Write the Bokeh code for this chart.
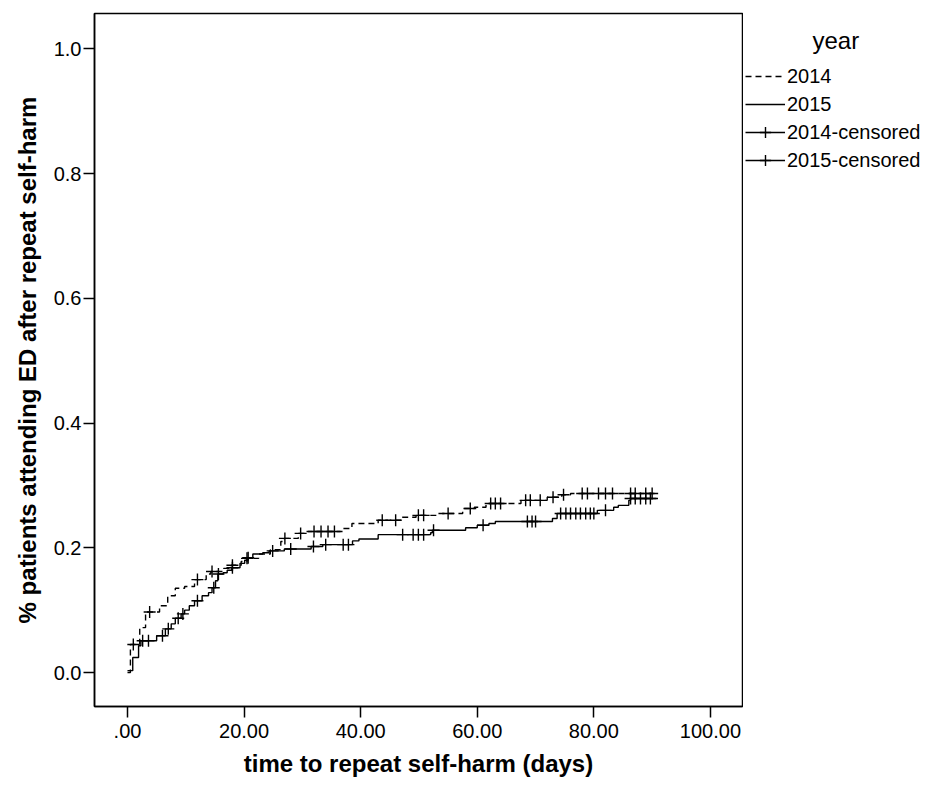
import numpy as np
from bokeh.plotting import figure
from bokeh.layouts import row
from bokeh.models import Range1d, FixedTicker, Legend, LegendItem, Label, ColumnDataSource
from bokeh.embed import file_html
from bokeh.resources import INLINE

# ---- data ----
t2014 = [0.0, 0.5, 2.1, 3.1, 5.5, 6.9, 8.2, 9.8, 11.5, 13.5, 14.3, 16.5, 17.8, 19.5, 20.5,
         22.5, 24.5, 26.3, 26.9, 29.3, 30.5, 37.0, 38.5, 43.0, 47.0, 49.5, 53.0, 57.5, 59.5,
         61.5, 67.5, 72.0, 74.5, 76.0, 91.0]
s2014 = [0.000, 0.045, 0.072, 0.097, 0.107, 0.123, 0.135, 0.138, 0.149, 0.158, 0.162, 0.167, 0.172, 0.178, 0.183,
         0.190, 0.197, 0.210, 0.215, 0.223, 0.226, 0.231, 0.239, 0.244, 0.249, 0.252, 0.255, 0.263, 0.265,
         0.271, 0.276, 0.281, 0.285, 0.287, 0.287]
c2014 = [1.0, 3.8, 12.0, 14.5, 18.0, 20.5, 27.0, 29.7, 32.0, 33.2, 34.4, 35.5, 43.7, 46.0, 49.9,
         50.8, 55.0, 58.8, 62.3, 63.1, 64.0, 68.3, 69.1, 70.8, 73.0, 74.8, 78.0, 78.9, 80.8,
         82.0, 83.2, 86.3, 87.1, 88.9, 90.0]

t2015 = [0.0, 0.9, 1.9, 2.3, 5.0, 6.5, 7.5, 8.2, 9.2, 9.8,
         10.6, 11.5, 12.8, 13.9, 14.5, 15.1, 15.5, 16.4, 17.1, 17.9,
         19.3, 20.1, 20.7, 21.5, 23.2, 24.3, 26.9, 31.5, 33.5, 38.6,
         39.7, 43.0, 52.0, 52.3, 58.0, 60.0, 62.0, 63.1, 72.9, 73.7,
         80.6, 83.4, 84.2, 86.0, 86.3, 91.0]
s2015 = [0.003, 0.024, 0.043, 0.051, 0.059, 0.070, 0.078, 0.087, 0.094, 0.100,
         0.107, 0.115, 0.123, 0.128, 0.136, 0.147, 0.158, 0.160, 0.164, 0.168,
         0.175, 0.180, 0.184, 0.190, 0.192, 0.195, 0.198, 0.202, 0.205, 0.211,
         0.214, 0.221, 0.224, 0.228, 0.232, 0.236, 0.239, 0.242, 0.247, 0.255,
         0.260, 0.265, 0.268, 0.276, 0.279, 0.279]
c2015 = [2.6, 3.6, 6.0, 7.0, 8.7, 9.5, 12.0, 14.8, 15.6, 18.0, 20.7, 24.9, 28.0, 31.9, 34.0,
         37.0, 37.9, 47.2, 49.0, 49.9, 50.8, 52.5, 61.0, 68.6, 69.4, 70.0, 74.3, 75.2, 76.0,
         76.9, 77.7, 78.6, 79.4, 80.0, 82.0, 86.3, 87.1, 88.0, 88.9, 89.7]

x_ticks = [0, 20, 40, 60, 80, 100]
x_tick_labels = [".00", "20.00", "40.00", "60.00", "80.00", "100.00"]
y_ticks = [0.0, 0.2, 0.4, 0.6, 0.8, 1.0]
y_tick_labels = ["0.0", "0.2", "0.4", "0.6", "0.8", "1.0"]
legend_title = "year"
series_names = ["2014", "2015", "2014-censored", "2015-censored"]


def step_value(times, values, at):
    idx = np.searchsorted(np.asarray(times), np.asarray(at), side="right") - 1
    return list(np.asarray(values)[idx])


FONT = "Liberation Sans"
LW = 1.4

src_c14 = ColumnDataSource(dict(x=c2014, y=step_value(t2014, s2014, c2014)))
src_c15 = ColumnDataSource(dict(x=c2015, y=step_value(t2015, s2015, c2015)))

# ---------------- main plot ----------------
p = figure(width=743, height=793, output_backend="svg", toolbar_location=None,
           x_range=Range1d(-5.66, 105.5), y_range=Range1d(-0.0545, 1.0566),
           min_border_left=94, min_border_right=1, min_border_top=13, min_border_bottom=87)
p.background_fill_color = "white"
p.border_fill_color = "white"
p.outline_line_color = "black"
p.outline_line_width = 1.5
p.xgrid.visible = False
p.ygrid.visible = False

for ax in (p.xaxis[0], p.yaxis[0]):
    ax.axis_line_color = "black"
    ax.axis_line_width = 1.5
    ax.major_tick_line_color = "black"
    ax.major_tick_line_width = 1.5
    ax.major_tick_in = 0
    ax.major_tick_out = 11
    ax.minor_tick_line_color = None
    ax.major_label_text_font = FONT
    ax.major_label_text_font_size = "20px"
    ax.major_label_text_color = "black"
    ax.axis_label_text_font = FONT
    ax.axis_label_text_font_style = "bold"
    ax.axis_label_text_font_size = "24px"
    ax.axis_label_text_color = "black"

p.xaxis.ticker = FixedTicker(ticks=x_ticks)
p.xaxis.major_label_overrides = {t: l for t, l in zip(x_ticks, x_tick_labels)}
p.yaxis.ticker = FixedTicker(ticks=y_ticks)
p.yaxis.major_label_overrides = {t: l for t, l in zip(y_ticks, y_tick_labels)}
p.xaxis.axis_label = "time to repeat self-harm (days)"
p.yaxis.axis_label = "% patients attending ED after repeat self-harm"
p.xaxis.major_label_standoff = 6
p.xaxis.axis_label_standoff = 9
p.yaxis.major_label_standoff = 2
p.yaxis.axis_label_standoff = 10

p.step(t2014, s2014, mode="after", line_color="black", line_width=LW, line_dash="6 4")
p.step(t2015, s2015, mode="after", line_color="black", line_width=LW)
p.scatter("x", "y", source=src_c14, marker="cross", size=12, line_color="black", line_width=LW)
p.scatter("x", "y", source=src_c15, marker="cross", size=12, line_color="black", line_width=LW)

# ---------------- legend panel (frame aligned with the main plot's frame) ----------------
# The same series are drawn here only as legend proxies; the ranges keep them out of view.
q = figure(width=189, height=793, output_backend="svg", toolbar_location=None,
           x_range=Range1d(1000, 1001), y_range=Range1d(1000, 1001),
           x_axis_type=None, y_axis_type=None,
           min_border_left=0, min_border_right=0, min_border_top=13, min_border_bottom=87)
q.outline_line_color = None
q.background_fill_color = "white"
q.border_fill_color = "white"
q.xgrid.visible = False
q.ygrid.visible = False

g14 = q.step(t2014, s2014, mode="after", line_color="black", line_width=LW, line_dash="6 4")
g15 = q.step(t2015, s2015, mode="after", line_color="black", line_width=LW)
gl14 = q.line(t2014, s2014, line_color="black", line_width=LW)
gl15 = q.line(t2015, s2015, line_color="black", line_width=LW)
gc14 = q.scatter("x", "y", source=src_c14, marker="cross", line_color="black", line_width=LW)
gc15 = q.scatter("x", "y", source=src_c15, marker="cross", line_color="black", line_width=LW)

legend = Legend(items=[
    LegendItem(label=series_names[0], renderers=[g14]),
    LegendItem(label=series_names[1], renderers=[g15]),
    LegendItem(label=series_names[2], renderers=[gl14, gc14]),
    LegendItem(label=series_names[3], renderers=[gl15, gc15]),
], location=(2, 532))
legend.border_line_color = None
legend.background_fill_alpha = 0
legend.padding = 0
legend.margin = 0
legend.spacing = 0
legend.glyph_width = 40
legend.glyph_height = 28
legend.label_standoff = 2
legend.label_text_font = FONT
legend.label_text_font_size = "20px"
legend.label_text_color = "black"
q.add_layout(legend, "center")

q.add_layout(Label(x=69, y=666, x_units="screen", y_units="screen", text=legend_title,
                   text_font=FONT, text_font_size="24px", text_color="black",
                   text_baseline="middle", text_align="left"))

layout = row(p, q, spacing=0)
open("out.html", "w").write(file_html(layout, INLINE))
